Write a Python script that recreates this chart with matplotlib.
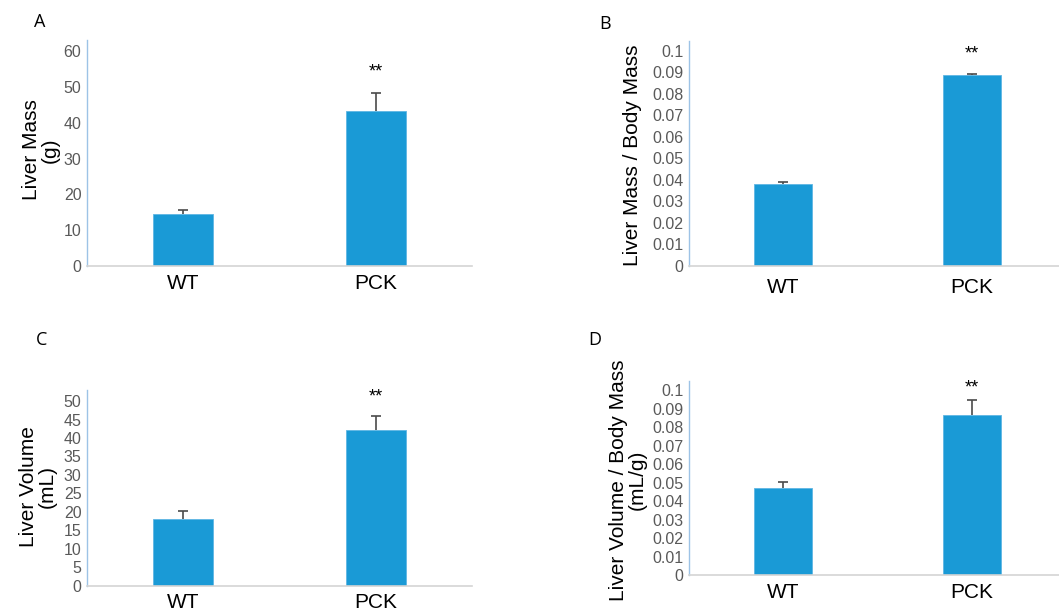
import numpy as np
import matplotlib
matplotlib.use("Agg")
import matplotlib.pyplot as plt

plt.rcParams['font.family'] = ['Liberation Sans', 'DejaVu Sans']

# data
groups = ['WT', 'PCK']

liver_mass = [14.5, 43.3]
liver_mass_err = [1.0, 5.0]

mass_ratio = [0.038, 0.0887]
mass_ratio_err = [0.001, 0.0006]

liver_volume = [18.1, 42.2]
liver_volume_err = [2.1, 3.8]

volume_ratio = [0.0473, 0.0865]
volume_ratio_err = [0.0031, 0.0081]

ticks_mass = [0, 10, 20, 30, 40, 50, 60]
ticks_volume = [0, 5, 10, 15, 20, 25, 30, 35, 40, 45, 50]
ticks_ratio = [0, 0.01, 0.02, 0.03, 0.04, 0.05, 0.06, 0.07, 0.08, 0.09, 0.1]
ticklabels_ratio = ['0', '0.01', '0.02', '0.03', '0.04', '0.05', '0.06',
                    '0.07', '0.08', '0.09', '0.1']

W, H = 1059, 612
bar_color = '#1a9ad6'

fig = plt.figure(figsize=(W / 100, H / 100), dpi=100)


def panel(left, right, top, bottom, vals, errs, ymax, yticks, yticklabels, xpad):
    ax = fig.add_axes([left / W, 1 - bottom / H, (right - left) / W, (bottom - top) / H])
    x = np.arange(len(groups))
    ax.bar(x, vals, width=0.31, color=bar_color, edgecolor='#5fb6e3',
           linewidth=0.6, zorder=2)
    # one-sided (upper) error bars
    eb = ax.errorbar(x, vals, yerr=[np.zeros(len(vals)), errs], fmt='none',
                     ecolor='#4a4a4a', elinewidth=1.2, capsize=3.5, capthick=1.2,
                     zorder=3)
    eb[1][0].set_visible(False)
    ax.set_xlim(-0.5, 1.5)
    ax.set_ylim(0, ymax)
    ax.set_yticks(yticks)
    ax.set_yticklabels(yticklabels)
    ax.set_xticks(x)
    ax.set_xticklabels(groups, fontsize=15)
    ax.tick_params(axis='y', length=0, pad=4, labelsize=11.5, labelcolor='#595959')
    ax.tick_params(axis='x', length=0, pad=xpad)
    for s in ['top', 'right']:
        ax.spines[s].set_visible(False)
    ax.spines['left'].set_color('#9dc3e6')
    ax.spines['bottom'].set_color('#d4d4d4')
    ax.spines['left'].set_linewidth(1.0)
    ax.spines['bottom'].set_linewidth(1.2)
    return ax


axA = panel(87, 472, 40, 266, liver_mass, liver_mass_err, 63.1,
            ticks_mass, [str(t) for t in ticks_mass], 6)
axB = panel(689, 1066, 41, 265.7, mass_ratio, mass_ratio_err, 0.1045,
            ticks_ratio, ticklabels_ratio, 9)
axC = panel(87, 472, 390, 585.7, liver_volume, liver_volume_err, 53,
            ticks_volume, [str(t) for t in ticks_volume], 5)
axD = panel(689, 1066, 381, 575, volume_ratio, volume_ratio_err, 0.105,
            ticks_ratio, ticklabels_ratio, 6)

# significance marks
for ax, y in [(axA, 69), (axB, 51), (axC, 394), (axD, 385)]:
    bb = ax.get_position()
    fig.text(bb.x0 + bb.width * (1.5 / 2), 1 - (y + 3) / H, '**',
             ha='center', va='center', fontsize=13)

# y labels
fig.text(41 / W, 1 - 150 / H, 'Liver Mass\n(g)', rotation=90, ha='center',
         va='center', fontsize=15, multialignment='center', linespacing=1.0)
fig.text(633 / W, 1 - 155 / H, 'Liver Mass / Body Mass', rotation=90,
         ha='center', va='center', fontsize=15)
fig.text(38 / W, 1 - 487 / H, 'Liver Volume\n(mL)', rotation=90, ha='center',
         va='center', fontsize=15, multialignment='center', linespacing=1.0)
fig.text(628 / W, 1 - 480 / H, 'Liver Volume / Body Mass\n(mL/g)', rotation=90,
         ha='center', va='center', fontsize=15, multialignment='center',
         linespacing=1.0)

# panel letters
for lab, px, py in [('A', 40, 22), ('B', 605, 24), ('C', 42, 340), ('D', 595, 340)]:
    fig.text(px / W, 1 - py / H, lab, ha='center', va='center', fontsize=13,
             family=['Open Sans', 'DejaVu Sans'])

fig.savefig('out.png', dpi=100)
